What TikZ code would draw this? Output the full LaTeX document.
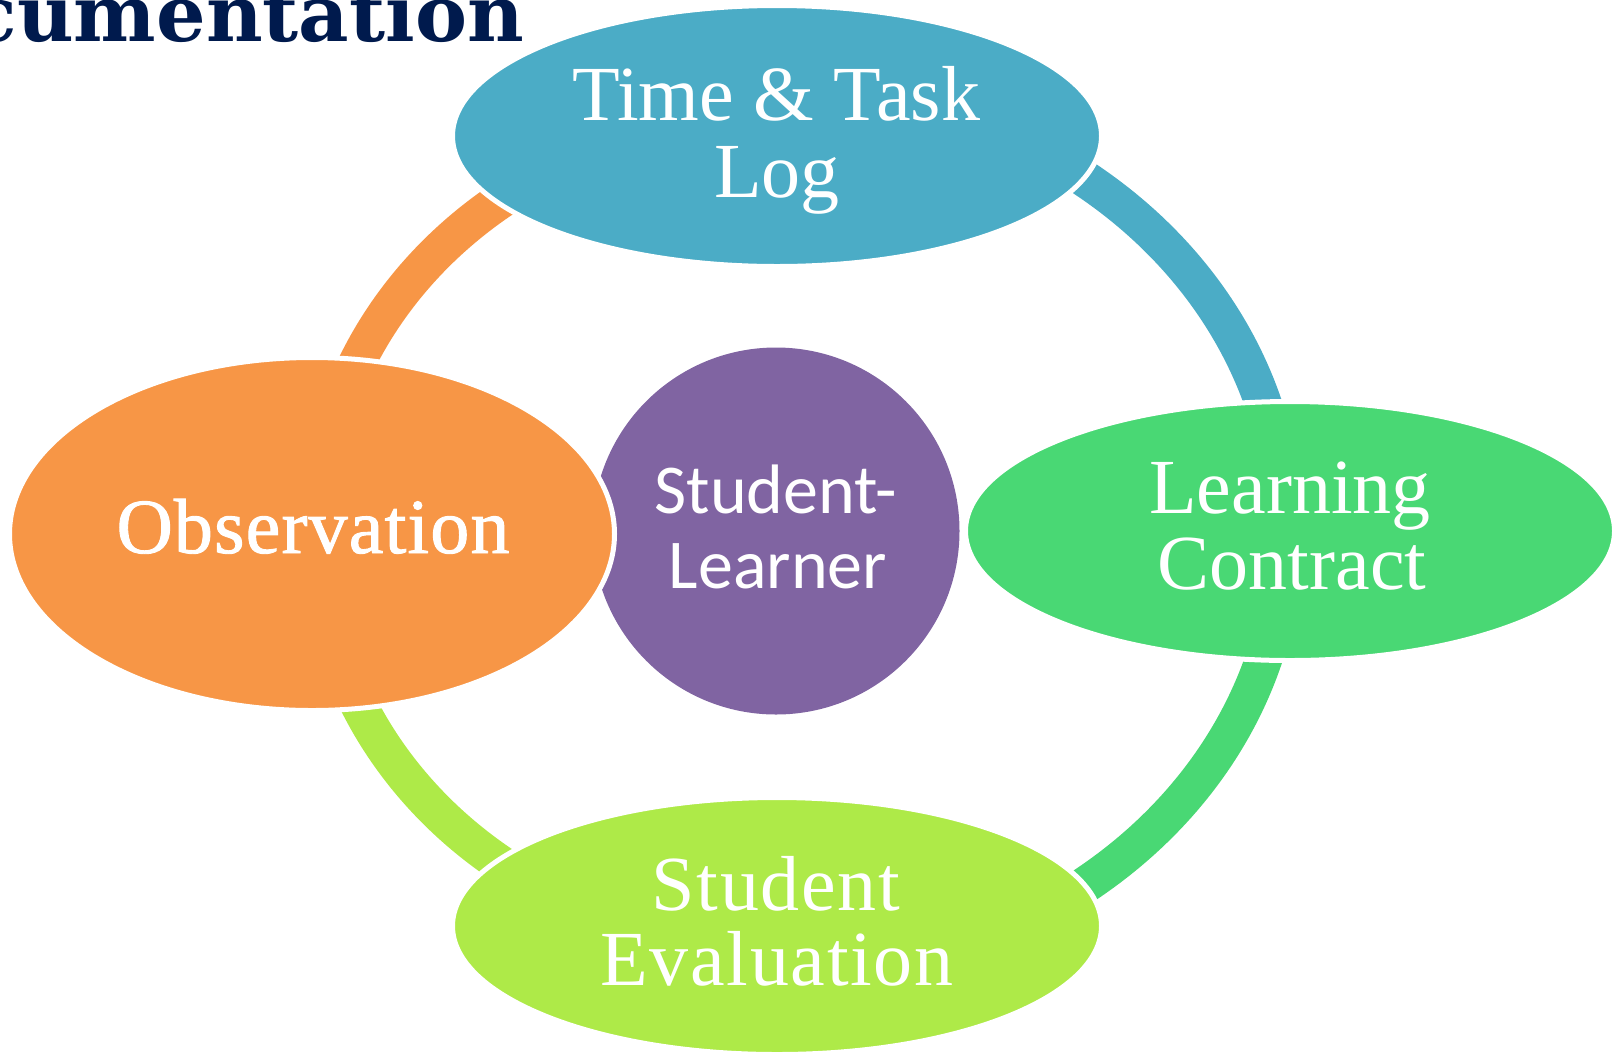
\documentclass[tikz,border=0pt]{standalone}
\usepackage{fontspec}
\usetikzlibrary{shapes.geometric}
\setmainfont{Liberation Serif}
\newfontfamily\lblfont{Liberation Serif}
\newfontfamily\obsfont{Liberation Serif}[FakeBold=1.2, LetterSpace=1.5]
\newfontfamily\sefont{Liberation Serif}[LetterSpace=2.2]
\newfontfamily\sansfnt{Carlito}
\newfontfamily\titlefnt{DejaVu Serif}
\definecolor{cblue}{HTML}{4BACC6}
\definecolor{corange}{HTML}{F79646}
\definecolor{cgreen}{HTML}{49D874}
\definecolor{clime}{HTML}{AEEA48}
\definecolor{cpurple}{HTML}{8064A2}
\definecolor{cnavy}{HTML}{001A4D}
\tikzset{
  ring/.style={line width=37pt},
  blob/.style={ellipse, draw=white, line width=5pt, inner sep=0pt, outer sep=0pt},
  lbl/.style={font=\lblfont\fontsize{78}{78}\selectfont, text=white, inner sep=0pt, anchor=base},
  slbl/.style={font=\sansfnt\fontsize{70}{70}\selectfont, text=white, inner sep=0pt, anchor=base}
}
\begin{document}
\begin{tikzpicture}[x=1pt,y=-1pt]
\useasboundingbox (0,0) rectangle (1616,1053);
\clip (0,0) rectangle (1616,1053);
% title (cut off)
\node[anchor=base east, font=\titlefnt\bfseries\fontsize{78}{78}\selectfont, text=cnavy, inner sep=0pt] (title) at (524,41) {cumentation};
% connecting arcs
\draw[ring, draw=cblue]   plot[domain=-58:-14, samples=80, smooth] ({777+508*cos(\x)},{532+444*sin(\x)});
\draw[ring, draw=cgreen]  plot[domain=14:58, samples=80, smooth] ({777+508*cos(\x)},{532+444*sin(\x)});
\draw[ring, draw=corange] plot[domain=-158:-122, samples=80, smooth] ({777+460*cos(\x)},{532+415*sin(\x)});
\draw[ring, draw=clime]   plot[domain=122:158, samples=80, smooth] ({777+460*cos(\x)},{532+415*sin(\x)});
% centre
\node[circle, fill=cpurple, minimum size=367pt, inner sep=0pt] (sl) at (776,531) {};
% outer nodes
\node[blob, fill=cblue,   minimum width=649pt, minimum height=261pt] (tt)  at (777,136) {};
\node[blob, fill=cgreen,  minimum width=649pt, minimum height=259pt] (lc)  at (1290,531) {};
\node[blob, fill=clime,   minimum width=649pt, minimum height=257pt] (se)  at (777,926) {};
\node[blob, fill=corange, minimum width=605pt, minimum height=353pt] (obs) at (312,534) {};
% labels
\node[lbl] (tt1) at (776,120) {Time \& Task};
\node[lbl] (tt2) at (777,197) {Log};
\node[lbl, font=\obsfont\fontsize{78}{78}\selectfont] (obs1) at (313,553) {Observation};
\node[lbl] (lc1) at (1290,513) {Learning};
\node[lbl] (lc2) at (1292,589) {Contract};
\node[lbl, font=\sefont\fontsize{78}{78}\selectfont] (se1) at (776,910) {Student};
\node[lbl, font=\sefont\fontsize{78}{78}\selectfont] (se2) at (777,985) {Evaluation};
\node[slbl] (sl1) at (776,513) {Student-};
\node[slbl] (sl2) at (778,588) {Learner};
\end{tikzpicture}
\end{document}
